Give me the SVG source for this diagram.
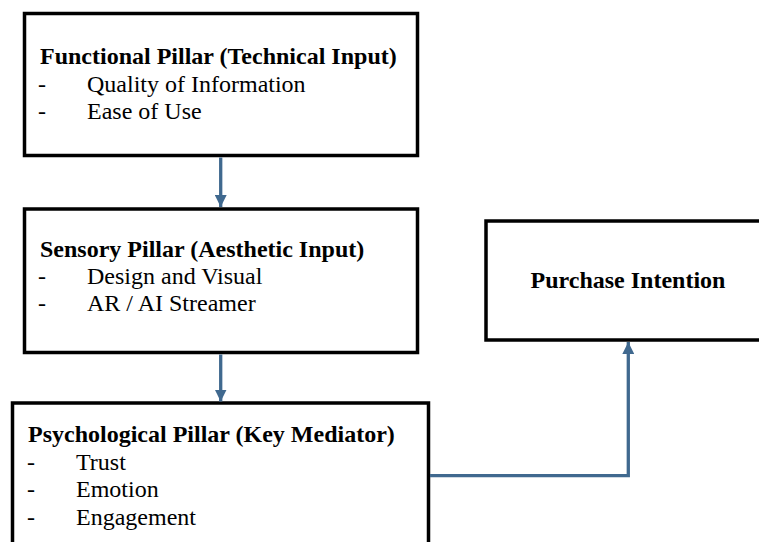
<svg xmlns="http://www.w3.org/2000/svg" width="759" height="542" viewBox="0 0 759 542">
<style>
.box{fill:#fff;stroke:#000;stroke-width:3.5}
.t{font-family:'Liberation Serif','DejaVu Serif',serif;font-size:24px;fill:#000}
.b{font-weight:bold}
.c{fill:none;stroke:#40698F;stroke-width:3.3}
</style>
<defs>
<marker id="ah" markerWidth="12" markerHeight="12" refX="12" refY="6" orient="auto" markerUnits="userSpaceOnUse">
<path d="M0,0 L12,6 L0,12 Z" fill="#40698F"/>
</marker>
</defs>
<rect width="759" height="542" fill="#fff"/>
<g id="functional">
<rect class="box" x="24.5" y="13.5" width="393" height="142"/>
<text class="t b" x="40" y="64">Functional Pillar (Technical Input)</text>
<text class="t" x="38" y="92">-</text><text class="t" x="87" y="92">Quality of Information</text>
<text class="t" x="38" y="119">-</text><text class="t" x="87" y="119">Ease of Use</text>
</g>
<g id="sensory">
<rect class="box" x="24.5" y="209" width="393" height="143.5"/>
<text class="t b" x="40" y="257">Sensory Pillar (Aesthetic Input)</text>
<text class="t" x="38" y="284">-</text><text class="t" x="87" y="284">Design and Visual</text>
<text class="t" x="38" y="311">-</text><text class="t" x="87" y="311">AR / AI Streamer</text>
</g>
<g id="psychological">
<rect class="box" x="12.5" y="403" width="416" height="160"/>
<text class="t b" x="28" y="442">Psychological Pillar (Key Mediator)</text>
<text class="t" x="27" y="470">-</text><text class="t" x="76" y="470">Trust</text>
<text class="t" x="27" y="497">-</text><text class="t" x="76" y="497">Emotion</text>
<text class="t" x="27" y="525">-</text><text class="t" x="76" y="525">Engagement</text>
</g>
<g id="purchase">
<rect class="box" x="486" y="221" width="290" height="119"/>
<text class="t b" x="628" y="288" text-anchor="middle">Purchase Intention</text>
</g>
<g id="connectors">
<line class="c" x1="220.7" y1="157.5" x2="220.7" y2="207" marker-end="url(#ah)"/>
<line class="c" x1="220.7" y1="354.5" x2="220.7" y2="401.5" marker-end="url(#ah)"/>
<polyline class="c" points="430,475.7 628.3,475.7 628.3,342" marker-end="url(#ah)"/>
</g>
</svg>
